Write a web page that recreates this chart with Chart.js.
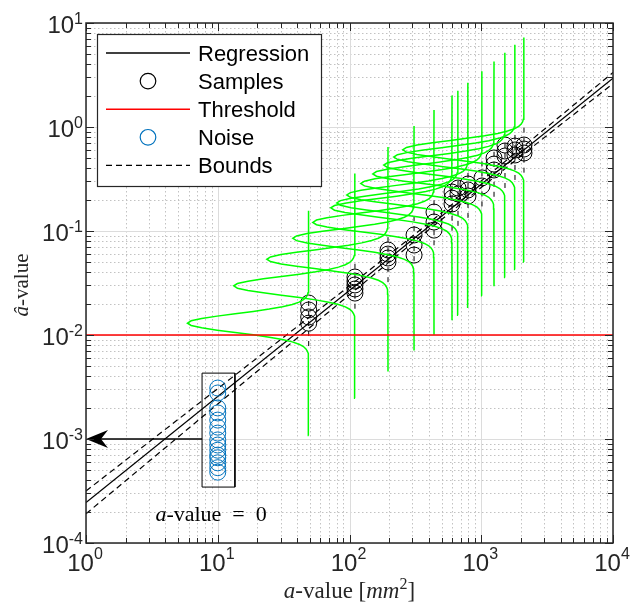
<!DOCTYPE html>
<html><head><meta charset="utf-8">
<script src="https://cdn.jsdelivr.net/npm/chart.js@4.4.0/dist/chart.umd.min.js"></script>
<style>html,body{margin:0;padding:0;background:#fff;}#wrap{width:631px;height:607px;}</style>
</head><body><div id="wrap"><canvas id="c" width="631" height="607"></canvas></div>
<script>
// ---------------- data ----------------
const regressionX = [1, 10000];
const regressionY = [2.45e-4, 2.95];
const thresholdX = [1, 10000];
const thresholdY = [0.01, 0.01];
const sampleX = [49,49,49,49, 110,110,110,110,110, 196,196,196,196, 309,309,309,
  438,438,438, 600,600,600, 666,666, 793,793,793, 1013,1013, 1250,1250,1250,
  1514,1514,1514, 1803,1803,1803, 2110,2110,2110];
const sampleY = [0.0203,0.0174,0.0149,0.0130, 0.0361,0.0330,0.0303,0.0277,0.0253,
  0.0656,0.0600,0.0550,0.0503, 0.0916,0.0733,0.0587, 0.152,0.122,0.102,
  0.237,0.207,0.182, 0.259,0.227, 0.283,0.248,0.217, 0.324,0.271,
  0.504,0.440,0.386, 0.671,0.588,0.526, 0.656,0.601,0.538, 0.671,0.614,0.562];
const noiseX = [10,10,10,10,10,10,10,10,10,10,10,10,10,10,10];
const noiseY = [3.09e-3,2.77e-3,1.99e-3,1.78e-3,1.52e-3,1.30e-3,1.14e-3,9.8e-4,
  8.75e-4,7.8e-4,7.0e-4,6.6e-4,5.9e-4,5.3e-4,4.8e-4];
const boundX = [1, 3.16, 10, 31.6, 100, 316, 1000, 3162, 10000];
const boundUpper = [3.16e-4, 9.82e-4, 3.05e-3, 9.51e-3, 0.0297, 0.0938, 0.303, 1.0, 3.34];
const boundLower = [1.91e-4, 6.43e-4, 2.17e-3, 7.28e-3, 0.0244, 0.0809, 0.262, 0.832, 2.61];
// PDF curves: location, mean, and the common lobe profile (decades)
const pdfX = [49, 110, 196, 309, 438, 600, 666, 793, 1013, 1250, 1514, 1803, 2110];
const pdfMean = [0.0130, 0.0297, 0.0535, 0.0851, 0.121, 0.167, 0.186, 0.222, 0.286, 0.354, 0.430, 0.514, 0.604];
const pdfDy = [-1.08,-0.3375,-0.315,-0.2925,-0.27,-0.2475,-0.225,-0.2025,-0.18,-0.1575,-0.135,-0.1125,-0.09,-0.0675,-0.045,-0.0225,
  0,0.0225,0.045,0.0675,0.09,0.1125,0.135,0.1575,0.18,0.2025,0.225,0.2475,0.27,0.2925,0.315,0.3375,1.08];
const pdfDx = [0,0.001,0.002,0.005,0.010,0.021,0.040,0.073,0.125,0.199,0.299,0.421,0.558,0.695,0.812,0.892,
  0.920,0.892,0.812,0.695,0.558,0.421,0.299,0.199,0.125,0.073,0.040,0.021,0.010,0.005,0.002,0.001,0];
const ciHalf = 0.22; // decades, dashed interval marks
const noiseBoxX = [7.6, 13.5, 13.5, 7.6, 7.6];
const noiseBoxY = [4.3e-3, 4.3e-3, 3.45e-4, 3.45e-4, 4.3e-3];
const arrowX = [7.6, 1.08];
const arrowY = [1e-3, 1e-3];
const xTickExps = [0, 1, 2, 3, 4];
const yTickExps = [-4, -3, -2, -1, 0, 1];
const legendLabels = ['Regression', 'Samples', 'Threshold', 'Noise', 'Bounds'];
const xTitle = ['a', '-value [', 'mm', '2', ']'];
const yTitle = ['\u00e2', '-value'];
const noteParts = ['a', '-value\u2002=\u20020'];
const noteAt = {x: 8.9, y: 1.9e-4};

// ---------------- helpers ----------------
const SANS = '"Liberation Sans", Arial, Helvetica, sans-serif';
const SERIF = '"Liberation Serif", "Times New Roman", serif';
const AX = '#262626';
const pts = (xs, ys) => xs.map((v, i) => ({x: v, y: ys[i]}));
function rich(ctx, parts, x, y, align) {
  let total = 0;
  parts.forEach(p => { ctx.font = p.font; p.w = ctx.measureText(p.t).width; total += p.w; });
  let cx = align === 'center' ? x - total / 2 : (align === 'right' ? x - total : x);
  ctx.textAlign = 'left'; ctx.textBaseline = 'alphabetic';
  parts.forEach(p => { ctx.font = p.font; ctx.fillText(p.t, cx, y + (p.dy || 0)); cx += p.w; });
}
function seg(ctx, x1, y1, x2, y2) { ctx.beginPath(); ctx.moveTo(x1, y1); ctx.lineTo(x2, y2); ctx.stroke(); }

// ---------------- datasets ----------------
const datasets = [];
datasets.push({label: 'Threshold', data: pts(thresholdX, thresholdY), showLine: true, pointRadius: 0,
  borderColor: '#ff0000', borderWidth: 1.5, order: 0});
pdfX.forEach((xc, i) => {
  datasets.push({label: 'pdf' + i, data: pdfDy.map((dy, k) => ({x: xc * Math.pow(10, -pdfDx[k]), y: pdfMean[i] * Math.pow(10, dy)})),
    showLine: true, pointRadius: 0, borderColor: '#00ff00', borderWidth: 1.5, order: 1});
});
datasets.push({label: 'box', data: pts(noiseBoxX, noiseBoxY), showLine: true, pointRadius: 0,
  borderColor: '#000', borderWidth: 1, order: 2});
datasets.push({label: 'arrow', data: pts(arrowX, arrowY), showLine: true, pointRadius: 0,
  borderColor: '#000', borderWidth: 1.5, order: 2});
datasets.push({label: 'Noise', data: pts(noiseX, noiseY), showLine: false, pointRadius: 8, pointStyle: 'circle',
  pointBorderColor: '#0072BD', pointBackgroundColor: 'rgba(0,0,0,0)', pointBorderWidth: 1, order: 3});
datasets.push({label: 'Samples', data: pts(sampleX, sampleY), showLine: false, pointRadius: 8, pointStyle: 'circle',
  pointBorderColor: '#000', pointBackgroundColor: 'rgba(0,0,0,0)', pointBorderWidth: 1, order: 4});
pdfX.forEach((xc, i) => {
  datasets.push({label: 'ci' + i, data: [{x: xc, y: pdfMean[i] * Math.pow(10, -ciHalf)}, {x: xc, y: pdfMean[i] * Math.pow(10, ciHalf)}],
    showLine: true, pointRadius: 0, borderColor: '#000', borderWidth: 1, borderDash: [5, 5], order: 5});
});
datasets.push({label: 'Regression', data: pts(regressionX, regressionY), showLine: true, pointRadius: 0,
  borderColor: '#000', borderWidth: 1.3, order: 6});
datasets.push({label: 'Bounds', data: pts(boundX, boundUpper), showLine: true, pointRadius: 0,
  borderColor: '#000', borderWidth: 1.2, borderDash: [6, 4], order: 7});
datasets.push({label: 'Bounds2', data: pts(boundX, boundLower), showLine: true, pointRadius: 0,
  borderColor: '#000', borderWidth: 1.2, borderDash: [6, 4], order: 7});

// ---------------- plugin: grid, axes, labels, legend, annotations ----------------
const decor = {
  id: 'decor',
  beforeDraw(chart) {
    const ctx = chart.ctx;
    ctx.save(); ctx.fillStyle = '#fff'; ctx.fillRect(0, 0, chart.width, chart.height); ctx.restore();
  },
  beforeDatasetsDraw(chart) {
    const {ctx, chartArea: a, scales: {x, y}} = chart;
    ctx.save();
    ctx.lineWidth = 1;
    ctx.strokeStyle = '#c2c2c2'; ctx.setLineDash([1.5, 2.5]);
    for (let e = xTickExps[0]; e < xTickExps[xTickExps.length - 1]; e++)
      for (let m = 2; m <= 9; m++) { const p = Math.round(x.getPixelForValue(m * Math.pow(10, e))) + 0.5; seg(ctx, p, a.top, p, a.bottom); }
    for (let e = yTickExps[0]; e < yTickExps[yTickExps.length - 1]; e++)
      for (let m = 2; m <= 9; m++) { const p = Math.round(y.getPixelForValue(m * Math.pow(10, e))) + 0.5; seg(ctx, a.left, p, a.right, p); }
    ctx.setLineDash([]); ctx.strokeStyle = '#dcdcdc';
    xTickExps.forEach(e => { const p = Math.round(x.getPixelForValue(Math.pow(10, e))) + 0.5; seg(ctx, p, a.top, p, a.bottom); });
    yTickExps.forEach(e => { const p = Math.round(y.getPixelForValue(Math.pow(10, e))) + 0.5; seg(ctx, a.left, p, a.right, p); });
    ctx.restore();
  },
  afterDatasetsDraw(chart) {
    const {ctx, chartArea: a, scales: {x, y}} = chart;
    ctx.save();
    // arrow head
    const ty = y.getPixelForValue(arrowY[0]);
    const tx = x.getPixelForValue(1);
    ctx.fillStyle = '#000';
    ctx.beginPath(); ctx.moveTo(tx, ty); ctx.lineTo(tx + 22, ty - 9); ctx.lineTo(tx + 15, ty); ctx.lineTo(tx + 22, ty + 9); ctx.closePath(); ctx.fill();
    // note text
    ctx.fillStyle = '#000';
    rich(ctx, [{t: noteParts[0], font: `italic 22px ${SERIF}`}, {t: noteParts[1], font: `22px ${SERIF}`}],
      x.getPixelForValue(noteAt.x), y.getPixelForValue(noteAt.y) + 7, 'center');
    // axes box
    ctx.strokeStyle = AX; ctx.lineWidth = 1;
    const tick = (len, isX, p) => {
      if (isX) { seg(ctx, p, a.bottom, p, a.bottom - len); seg(ctx, p, a.top, p, a.top + len); }
      else { seg(ctx, a.left, p, a.left + len, p); seg(ctx, a.right, p, a.right - len, p); }
    };
    for (let e = xTickExps[0]; e < xTickExps[xTickExps.length - 1]; e++)
      for (let m = 2; m <= 9; m++) tick(5, true, Math.round(x.getPixelForValue(m * Math.pow(10, e))) + 0.5);
    for (let e = yTickExps[0]; e < yTickExps[yTickExps.length - 1]; e++)
      for (let m = 2; m <= 9; m++) tick(5, false, Math.round(y.getPixelForValue(m * Math.pow(10, e))) + 0.5);
    xTickExps.forEach(e => tick(8, true, Math.round(x.getPixelForValue(Math.pow(10, e))) + 0.5));
    yTickExps.forEach(e => tick(8, false, Math.round(y.getPixelForValue(Math.pow(10, e))) + 0.5));
    ctx.lineWidth = 1.5;
    ctx.strokeRect(a.left, a.top, a.right - a.left, a.bottom - a.top);
    // tick labels
    ctx.fillStyle = AX;
    yTickExps.forEach(e => {
      const p = y.getPixelForValue(Math.pow(10, e));
      rich(ctx, [{t: '10', font: `24px ${SANS}`, dy: 9.5}, {t: String(e), font: `16px ${SANS}`, dy: 0.5}], a.left - 3, p, 'right');
    });
    xTickExps.forEach(e => {
      const p = x.getPixelForValue(Math.pow(10, e));
      rich(ctx, [{t: '10', font: `24px ${SANS}`, dy: 28}, {t: String(e), font: `16px ${SANS}`, dy: 16}], p - 1, a.bottom, 'center');
    });
    // axis titles
    ctx.fillStyle = AX;
    rich(ctx, [{t: xTitle[0], font: `italic 23px ${SERIF}`}, {t: xTitle[1], font: `23px ${SERIF}`},
      {t: xTitle[2], font: `italic 23px ${SERIF}`}, {t: xTitle[3], font: `16px ${SERIF}`, dy: -9}, {t: xTitle[4], font: `23px ${SERIF}`}],
      (a.left + a.right) / 2, 598, 'center');
    ctx.save(); ctx.translate(28, (a.top + a.bottom) / 2 + 2); ctx.rotate(-Math.PI / 2);
    rich(ctx, [{t: yTitle[0], font: `italic 21px ${SERIF}`}, {t: yTitle[1], font: `21px ${SERIF}`}], 0, 0, 'center');
    ctx.restore();
    // legend
    const L = a.left + 11, T = a.top + 11, LW = 224, LH = 152;
    ctx.fillStyle = '#fff'; ctx.fillRect(L, T, LW, LH);
    ctx.strokeStyle = AX; ctx.lineWidth = 1.2; ctx.strokeRect(L + 0.5, T + 0.5, LW, LH);
    legendLabels.forEach((lab, k) => {
      const ry = T + 19 + k * 28.1;
      const x1 = L + 9, x2 = L + 93, xm = (x1 + x2) / 2;
      ctx.setLineDash([]);
      if (lab === 'Regression') { ctx.strokeStyle = '#000'; ctx.lineWidth = 1.3; seg(ctx, x1, ry, x2, ry); }
      if (lab === 'Threshold') { ctx.strokeStyle = '#ff0000'; ctx.lineWidth = 1.5; seg(ctx, x1, ry, x2, ry); }
      if (lab === 'Bounds') { ctx.strokeStyle = '#000'; ctx.lineWidth = 1.2; ctx.setLineDash([6, 4]); seg(ctx, x1, ry, x2, ry); ctx.setLineDash([]); }
      if (lab === 'Samples' || lab === 'Noise') {
        ctx.strokeStyle = lab === 'Samples' ? '#000' : '#0072BD'; ctx.lineWidth = 1.2;
        ctx.beginPath(); ctx.arc(xm, ry, 7.8, 0, Math.PI * 2); ctx.stroke();
      }
      ctx.fillStyle = '#000'; ctx.font = `22px ${SANS}`; ctx.textAlign = 'left'; ctx.textBaseline = 'alphabetic';
      ctx.fillText(lab, L + 101, ry + 8);
    });
    ctx.restore();
  }
};

new Chart(document.getElementById('c'), {
  type: 'scatter',
  data: {datasets},
  options: {
    responsive: false, animation: false, devicePixelRatio: 1, events: [],
    layout: {padding: {top: 23, right: 18, left: 0, bottom: 0}},
    plugins: {legend: {display: false}, tooltip: {enabled: false}},
    elements: {line: {tension: 0, fill: false}},
    scales: {
      x: {type: 'logarithmic', min: 1, max: 10000, grid: {display: false}, border: {display: false},
        ticks: {display: false}, afterFit(s) { s.height = 64; }},
      y: {type: 'logarithmic', min: 1e-4, max: 10, grid: {display: false}, border: {display: false},
        ticks: {display: false}, afterFit(s) { s.width = 86; }}
    }
  },
  plugins: [decor]
});
</script></body></html>
